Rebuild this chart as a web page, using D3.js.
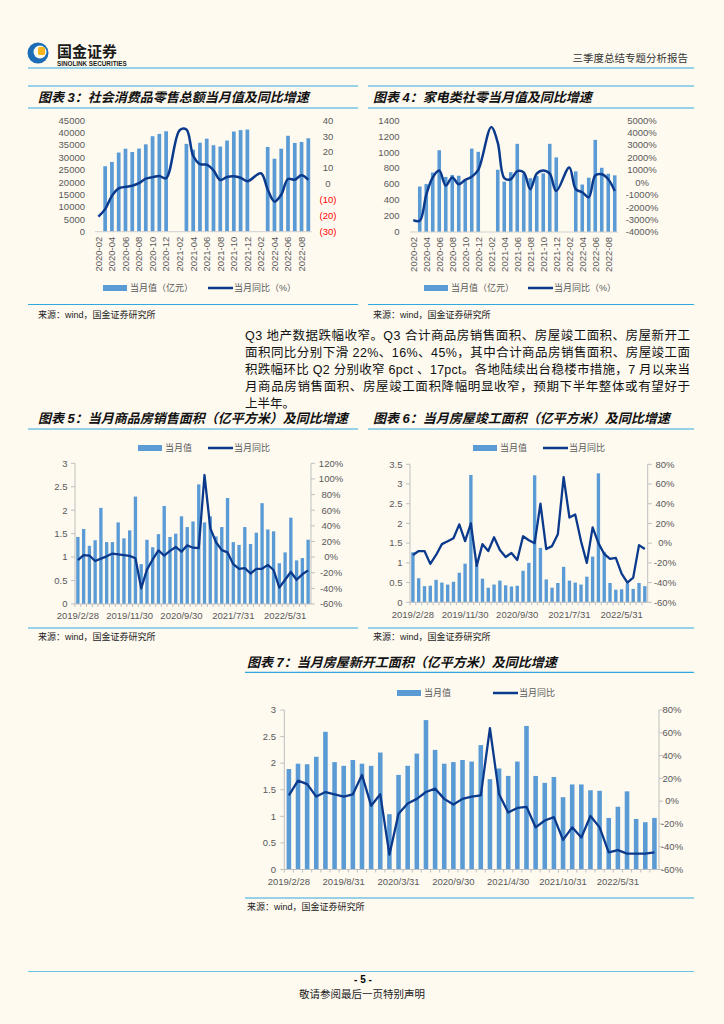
<!DOCTYPE html>
<html>
<head>
<meta charset="utf-8">
<script src="https://cdn.jsdelivr.net/npm/d3@7"></script>
<style>
  body { margin: 0; background: #fefaf0; }
  svg { display: block; }
  text { font-family: "Liberation Sans", "Noto Sans CJK SC", sans-serif; }
</style>
</head>
<body>
<svg width="724" height="1024"></svg>
<script>
// ---- data ----
// monthly axis for charts 3 and 4 (Jan has no bar)
var monthsA = ["2020-02","2020-03","2020-04","2020-05","2020-06","2020-07","2020-08","2020-09","2020-10","2020-11","2020-12",
  "2021-01","2021-02","2021-03","2021-04","2021-05","2021-06","2021-07","2021-08","2021-09","2021-10","2021-11","2021-12",
  "2022-01","2022-02","2022-03","2022-04","2022-05","2022-06","2022-07","2022-08","2022-09"];
var retailVal = [null,26450,28178,31973,33526,32203,33571,35295,38576,39514,40566,
  null,null,35484,33153,35945,37586,34925,34395,36833,40454,41043,41269,
  null,null,34233,29483,33547,38742,35870,36258,37745];
var retailYoy = [-20.5,-15.8,-7.5,-2.8,-1.8,-1.1,0.5,3.3,4.3,5.0,3.6,
  null,33.8,34.2,17.7,12.4,12.1,8.5,2.5,4.4,4.9,3.9,1.7,
  null,6.7,-3.5,-11.1,-6.7,3.1,2.7,5.4,2.5];
var applVal = [null,570,600,745,1025,690,715,705,640,1045,1005,
  null,null,780,630,750,1105,725,675,700,735,1105,935,
  null,null,760,595,680,1155,805,730,710];
var applYoy = [-3050,-3100,-1000,400,950,-250,400,-150,200,450,1000,
  null,4450,3200,350,250,900,800,-550,700,950,700,-700,
  null,1200,-550,-800,-1200,550,650,250,-700];

// month-end axis for charts 5, 6, 7 (Jan-Feb combined)
var monthsB = ["2019-02","2019-03","2019-04","2019-05","2019-06","2019-07","2019-08","2019-09","2019-10","2019-11","2019-12",
  "2020-02","2020-03","2020-04","2020-05","2020-06","2020-07","2020-08","2020-09","2020-10","2020-11","2020-12",
  "2021-02","2021-03","2021-04","2021-05","2021-06","2021-07","2021-08","2021-09","2021-10","2021-11","2021-12",
  "2022-02","2022-03","2022-04","2022-05","2022-06","2022-07","2022-08","2022-09"];
var salesVal = [1.43,1.60,1.24,1.36,2.05,1.32,1.32,1.74,1.40,1.57,2.29,
  0.85,1.37,1.21,1.49,2.09,1.43,1.50,1.87,1.64,1.76,2.55,
  1.74,1.87,1.44,1.64,2.26,1.32,1.26,1.64,1.28,1.52,2.15,
  1.59,1.55,0.87,1.10,1.84,0.93,0.98,1.37];
var salesYoy = [-4,2.5,2,-5,-2,1,4.5,3.5,2.5,1.5,-1.5,
  -40,-16,-3,8.5,2,8,13,7,15,12,11.5,
  105,37,19,9,6,-9,-15,-14,-21,-15,-15,
  -10,-16.5,-39,-29,-19,-29,-22,-17];
var complVal = [1.27,0.61,0.41,0.42,0.57,0.50,0.45,0.52,0.75,0.98,3.23,
  0.96,0.60,0.37,0.45,0.55,0.43,0.40,0.42,0.80,1.00,3.22,
  1.38,0.58,0.37,0.49,0.90,0.55,0.50,0.45,0.65,1.16,3.27,
  1.28,0.49,0.32,0.33,0.48,0.34,0.49,0.41];
var complYoy = [-12,-8,-8,-21,-12,-1,2,5,19,2,20,
  -23,-1,-8,6,-7,-14,-10,-17,7,3,0,
  40,-6,-3,9,67,26,29,2,-20,16,0,
  -11,-16,-15,-31,-40,-35,-2,-6];
var startVal = [1.89,1.99,1.98,2.12,2.59,2.02,1.95,2.06,1.99,1.95,2.20,
  1.04,1.78,1.95,2.18,2.81,2.25,1.99,2.02,2.06,2.03,2.34,
  1.70,1.90,1.76,2.03,2.70,1.76,1.63,1.74,1.36,1.60,1.60,
  1.49,1.48,0.97,1.18,1.47,0.95,0.89,0.97];
var startYoy = [5,18,15,4,8,6,4,6,23,-4,6,
  -47,-11,-2,2,8,11,2,-3,2,4,5,
  64,6,-10,-6,-5,-23,-17,-14,-34,-23,-32,
  -13,-23,-45,-43,-46,-46,-46,-45];

var ticks56 = {"2019-02":"2019/2/28","2019-11":"2019/11/30","2020-09":"2020/9/30","2021-07":"2021/7/31","2022-05":"2022/5/31"};
var ticks7 = {"2019-02":"2019/2/28","2019-08":"2019/8/31","2020-03":"2020/3/31","2020-09":"2020/9/30",
  "2021-04":"2021/4/30","2021-10":"2021/10/31","2022-05":"2022/5/31"};

var paragraph = [
  "Q3 地产数据跌幅收窄。Q3 合计商品房销售面积、房屋竣工面积、房屋新开工",
  "面积同比分别下滑 22%、16%、45%，其中合计商品房销售面积、房屋竣工面",
  "积跌幅环比 Q2 分别收窄 6pct 、17pct。各地陆续出台稳楼市措施，7 月以来当",
  "月商品房销售面积、房屋竣工面积降幅明显收窄，预期下半年整体或有望好于",
  "上半年。"
];

// ---- style ----
var RULE = "#2fa8e0", BAR = "#5b9bd5", LINE = "#0b3a8c", TXT = "#595959", AX = "#bfbfbf";
var svg = d3.select("svg");

// ---- header ----
var hdr = svg.append("g");
hdr.append("circle").attr("cx", 38).attr("cy", 53).attr("r", 10.5).attr("fill", "#1c6db5");
hdr.append("circle").attr("cx", 40).attr("cy", 52).attr("r", 6.5).attr("fill", "#fefaf0");
hdr.append("rect").attr("x", 38).attr("y", 47).attr("width", 7).attr("height", 8).attr("rx", 1.5).attr("fill", "#f3b51b");
hdr.append("text").attr("x", 57).attr("y", 57).attr("font-size", 15).attr("font-weight", "bold").attr("fill", "#1a1a1a").text("国金证券");
hdr.append("text").attr("x", 57).attr("y", 65.5).attr("font-size", 6.3).attr("font-weight", "bold").attr("fill", "#1a1a1a").text("SINOLINK SECURITIES");
hdr.append("text").attr("x", 688).attr("y", 62).attr("text-anchor", "end").attr("font-size", 10.5).attr("fill", "#333").text("三季度总结专题分析报告");
hdr.append("line").attr("x1", 28).attr("x2", 694).attr("y1", 68).attr("y2", 68).attr("stroke", RULE).attr("stroke-width", 1.2);

// ---- paragraph ----
paragraph.forEach(function(s, i) {
  var t = svg.append("text").attr("x", 245).attr("y", 339.5 + i * 17)
    .attr("font-size", 12.5).attr("fill", "#111").text(s);
  if (i < paragraph.length - 1) t.attr("textLength", 445).attr("lengthAdjust", "spacing");
});

// ---- footer ----
svg.append("line").attr("x1", 28).attr("x2", 694).attr("y1", 971.5).attr("y2", 971.5).attr("stroke", "#6cc3ea").attr("stroke-width", 1.2);
svg.append("text").attr("x", 363).attr("y", 983).attr("text-anchor", "middle").attr("font-size", 10).attr("font-weight", "bold").text("- 5 -");
svg.append("text").attr("x", 362).attr("y", 997.5).attr("text-anchor", "middle").attr("font-size", 10.5).attr("fill", "#222").text("敬请参阅最后一页特别声明");

function frame(o) {
  var g = svg.append("g");
  if (o.topY) g.append("line").attr("x1", o.x0).attr("x2", o.x1).attr("y1", o.topY).attr("y2", o.topY).attr("stroke", RULE).attr("stroke-width", 1.2);
  g.append("text").attr("x", o.titleX).attr("y", o.titleY).attr("font-size", 13).attr("font-weight", "bold")
    .attr("font-style", "italic").attr("fill", "#111").text(o.title);
  g.append("line").attr("x1", o.x0).attr("x2", o.x1).attr("y1", o.ruleY).attr("y2", o.ruleY).attr("stroke", RULE).attr("stroke-width", 1.2);
  g.append("line").attr("x1", o.x0).attr("x2", o.x1).attr("y1", o.botY).attr("y2", o.botY).attr("stroke", RULE).attr("stroke-width", 1.2);
  g.append("text").attr("x", o.titleX).attr("y", o.srcY).attr("font-size", 9).attr("fill", "#222").text("来源：wind，国金证券研究所");
}

function legend(g, items, y) {
  items.forEach(function(it) {
    if (it.type === "bar") {
      g.append("rect").attr("x", it.x).attr("y", y - 3).attr("width", 24).attr("height", 6).attr("fill", BAR);
    } else {
      g.append("line").attr("x1", it.x).attr("x2", it.x + 25).attr("y1", y).attr("y2", y).attr("stroke", LINE).attr("stroke-width", 2.5);
    }
    g.append("text").attr("x", it.x + (it.type === "bar" ? 27 : 26)).attr("y", y).attr("dy", "0.35em")
      .attr("font-size", 9).attr("fill", TXT).text(it.text);
  });
}

// charts 3 & 4: smoothed line, rotated month labels, legend below
function chartMonthly(o) {
  var g = svg.append("g");
  var x = d3.scaleBand().domain(monthsA).range([o.x0, o.x1]).paddingInner(0.45).paddingOuter(0.225);
  var yL = d3.scaleLinear().domain(o.lDom).range([o.yB, o.yT]);
  var yR = d3.scaleLinear().domain(o.rDom).range([o.yB, o.yT]);

  g.selectAll(".bar").data(monthsA.map(function(m, i) { return {m: m, v: o.bars[i]}; }).filter(function(d) { return d.v != null; }))
    .enter().append("rect")
    .attr("x", function(d) { return x(d.m); }).attr("width", x.bandwidth())
    .attr("y", function(d) { return yL(d.v); }).attr("height", function(d) { return yL(0) - yL(d.v); })
    .attr("fill", BAR);

  g.append("line").attr("x1", o.x0).attr("x2", o.x1).attr("y1", o.yB).attr("y2", o.yB).attr("stroke", "#d0d0d0");

  g.selectAll(".ll").data(d3.range(o.lDom[0], o.lDom[1] + 1e-9, o.lStep)).enter().append("text")
    .attr("x", o.lX).attr("y", function(d) { return yL(d); }).attr("dy", "0.35em").attr("text-anchor", "end")
    .attr("font-size", 9.5).attr("fill", TXT).text(function(d) { return d; });
  g.selectAll(".rl").data(d3.range(o.rDom[0], o.rDom[1] + 1e-9, o.rStep)).enter().append("text")
    .attr("x", o.rX).attr("y", function(d) { return yR(d); }).attr("dy", "0.35em").attr("text-anchor", "middle")
    .attr("font-size", 9.5).attr("fill", function(d) { return d < 0 && o.redNeg ? "#ff0000" : TXT; })
    .text(o.rFmt);

  g.selectAll(".xl").data(monthsA.filter(function(m, i) { return i % 2 === 0; })).enter().append("text")
    .attr("transform", function(d) { return "translate(" + (x(d) + x.bandwidth() / 2) + "," + (o.yB + 5) + ") rotate(-90)"; })
    .attr("text-anchor", "end").attr("dy", "0.35em").attr("font-size", 9.5).attr("fill", TXT).text(function(d) { return d; });

  var pts = monthsA.map(function(m, i) { return {m: m, v: o.line[i]}; }).filter(function(d) { return d.v != null; });
  g.append("path").datum(pts)
    .attr("d", d3.line().x(function(d) { return x(d.m) + x.bandwidth() / 2; }).y(function(d) { return yR(d.v); }).curve(d3.curveCatmullRom.alpha(0.5)))
    .attr("fill", "none").attr("stroke", LINE).attr("stroke-width", 2.5);

  legend(g, o.legend, o.legendY);
}

// charts 5, 6, 7: straight line, date labels, legend on top, framed axes
function chartDated(o) {
  var g = svg.append("g");
  var x = d3.scaleBand().domain(monthsB).range([o.x0, o.x1]).paddingInner(o.pad).paddingOuter(o.pad / 2);
  var yL = d3.scaleLinear().domain(o.lDom).range([o.yB, o.yT]);
  var yR = d3.scaleLinear().domain(o.rDom).range([o.yB, o.yT]);

  g.selectAll(".bar").data(monthsB.map(function(m, i) { return {m: m, v: o.bars[i]}; }))
    .enter().append("rect")
    .attr("x", function(d) { return x(d.m); }).attr("width", x.bandwidth())
    .attr("y", function(d) { return yL(d.v); }).attr("height", function(d) { return yL(0) - yL(d.v); })
    .attr("fill", BAR);

  g.append("line").attr("x1", o.x0).attr("x2", o.x0).attr("y1", o.yT).attr("y2", o.yB).attr("stroke", AX);
  g.append("line").attr("x1", o.x1).attr("x2", o.x1).attr("y1", o.yT).attr("y2", o.yB).attr("stroke", AX);
  g.append("line").attr("x1", o.x0).attr("x2", o.x1).attr("y1", o.yB).attr("y2", o.yB).attr("stroke", AX);

  var lt = d3.range(o.lDom[0], o.lDom[1] + 1e-9, o.lStep);
  var rt = d3.range(o.rDom[0], o.rDom[1] + 1e-9, o.rStep);
  g.selectAll(".lt").data(lt).enter().append("line")
    .attr("x1", o.x0 - 4).attr("x2", o.x0).attr("y1", function(d) { return yL(d); }).attr("y2", function(d) { return yL(d); }).attr("stroke", AX);
  g.selectAll(".rt").data(rt).enter().append("line")
    .attr("x1", o.x1).attr("x2", o.x1 + 4).attr("y1", function(d) { return yR(d); }).attr("y2", function(d) { return yR(d); }).attr("stroke", AX);
  g.selectAll(".xt").data(monthsB).enter().append("line")
    .attr("x1", function(d) { return x(d) - x.step() * o.pad / 2; }).attr("x2", function(d) { return x(d) - x.step() * o.pad / 2; })
    .attr("y1", o.yB).attr("y2", o.yB + 3).attr("stroke", AX);

  g.selectAll(".ll").data(lt).enter().append("text")
    .attr("x", o.lX).attr("y", function(d) { return yL(d); }).attr("dy", "0.35em").attr("text-anchor", "end")
    .attr("font-size", 9.5).attr("fill", TXT).text(function(d) { return d; });
  g.selectAll(".rl").data(rt).enter().append("text")
    .attr("x", o.rX).attr("y", function(d) { return yR(d); }).attr("dy", "0.35em").attr("text-anchor", "middle")
    .attr("font-size", 9.5).attr("fill", TXT).text(function(d) { return d + "%"; });

  g.selectAll(".xl").data(Object.keys(o.ticks)).enter().append("text")
    .attr("x", function(d) { return x(d) + x.bandwidth() / 2; }).attr("y", o.yB + 12).attr("dy", "0.35em")
    .attr("text-anchor", "middle").attr("font-size", 9.5).attr("fill", TXT)
    .text(function(d) { return o.ticks[d]; });

  g.append("path").datum(monthsB.map(function(m, i) { return {m: m, v: o.line[i]}; }))
    .attr("d", d3.line().x(function(d) { return x(d.m) + x.bandwidth() / 2; }).y(function(d) { return yR(d.v); }))
    .attr("fill", "none").attr("stroke", LINE).attr("stroke-width", 2.3).attr("stroke-linejoin", "round");

  legend(g, o.legend, o.legendY);
}

// ---- chart 3 ----
frame({x0: 28, x1: 358, topY: 86, titleX: 38, titleY: 101.5, ruleY: 108, botY: 304.5, srcY: 317.5,
  title: "图表 3：社会消费品零售总额当月值及同比增速"});
chartMonthly({x0: 95, x1: 311.7, yB: 231.7, yT: 120.3, bars: retailVal, line: retailYoy,
  lDom: [0, 45000], lStep: 5000, rDom: [-30, 40], rStep: 10, lX: 85, rX: 328, redNeg: true,
  rFmt: function(d) { return d < 0 ? "(" + (-d) + ")" : d; },
  legendY: 288, legend: [{type: "bar", x: 103, text: "当月值（亿元）"}, {type: "line", x: 208, text: "当月同比（%）"}]});

// ---- chart 4 ----
frame({x0: 368, x1: 694, topY: 86, titleX: 373, titleY: 101.5, ruleY: 108, botY: 304.5, srcY: 317.5,
  title: "图表 4：家电类社零当月值及同比增速"});
chartMonthly({x0: 410, x1: 618, yB: 232, yT: 120.3, bars: applVal, line: applYoy,
  lDom: [0, 1400], lStep: 200, rDom: [-4000, 5000], rStep: 1000, lX: 399.5, rX: 642, redNeg: false,
  rFmt: function(d) { return d + "%"; },
  legendY: 288, legend: [{type: "bar", x: 424, text: "当月值（亿元）"}, {type: "line", x: 528, text: "当月同比（%）"}]});

// ---- chart 5 ----
frame({x0: 28, x1: 358, titleX: 38, titleY: 422.5, ruleY: 429, botY: 628, srcY: 639.5,
  title: "图表 5：当月商品房销售面积（亿平方米）及同比增速"});
chartDated({x0: 75, x1: 311, yB: 604, yT: 463.3, pad: 0.42, bars: salesVal, line: salesYoy,
  lDom: [0, 3], lStep: 0.5, rDom: [-60, 120], rStep: 20, lX: 67.5, rX: 331, ticks: ticks56,
  legendY: 448, legend: [{type: "bar", x: 138, text: "当月值"}, {type: "line", x: 208, text: "当月同比"}]});

// ---- chart 6 ----
frame({x0: 368, x1: 694, titleX: 373, titleY: 422.5, ruleY: 429, botY: 628, srcY: 639.5,
  title: "图表 6：当月房屋竣工面积（亿平方米）及同比增速"});
chartDated({x0: 410, x1: 647.7, yB: 602.3, yT: 464.3, pad: 0.42, bars: complVal, line: complYoy,
  lDom: [0, 3.5], lStep: 0.5, rDom: [-60, 80], rStep: 20, lX: 402.5, rX: 665, ticks: ticks56,
  legendY: 448, legend: [{type: "bar", x: 473, text: "当月值"}, {type: "line", x: 543, text: "当月同比"}]});

// ---- chart 7 ----
frame({x0: 245, x1: 694, titleX: 247, titleY: 666.5, ruleY: 672.3, botY: 898, srcY: 909.5,
  title: "图表 7：当月房屋新开工面积（亿平方米）及同比增速"});
chartDated({x0: 284.3, x1: 659, yB: 869.5, yT: 710, pad: 0.5, bars: startVal, line: startYoy,
  lDom: [0, 3], lStep: 0.5, rDom: [-60, 80], rStep: 20, lX: 276, rX: 672, ticks: ticks7,
  legendY: 693, legend: [{type: "bar", x: 397, text: "当月值"}, {type: "line", x: 493, text: "当月同比"}]});
</script>
</body>
</html>
